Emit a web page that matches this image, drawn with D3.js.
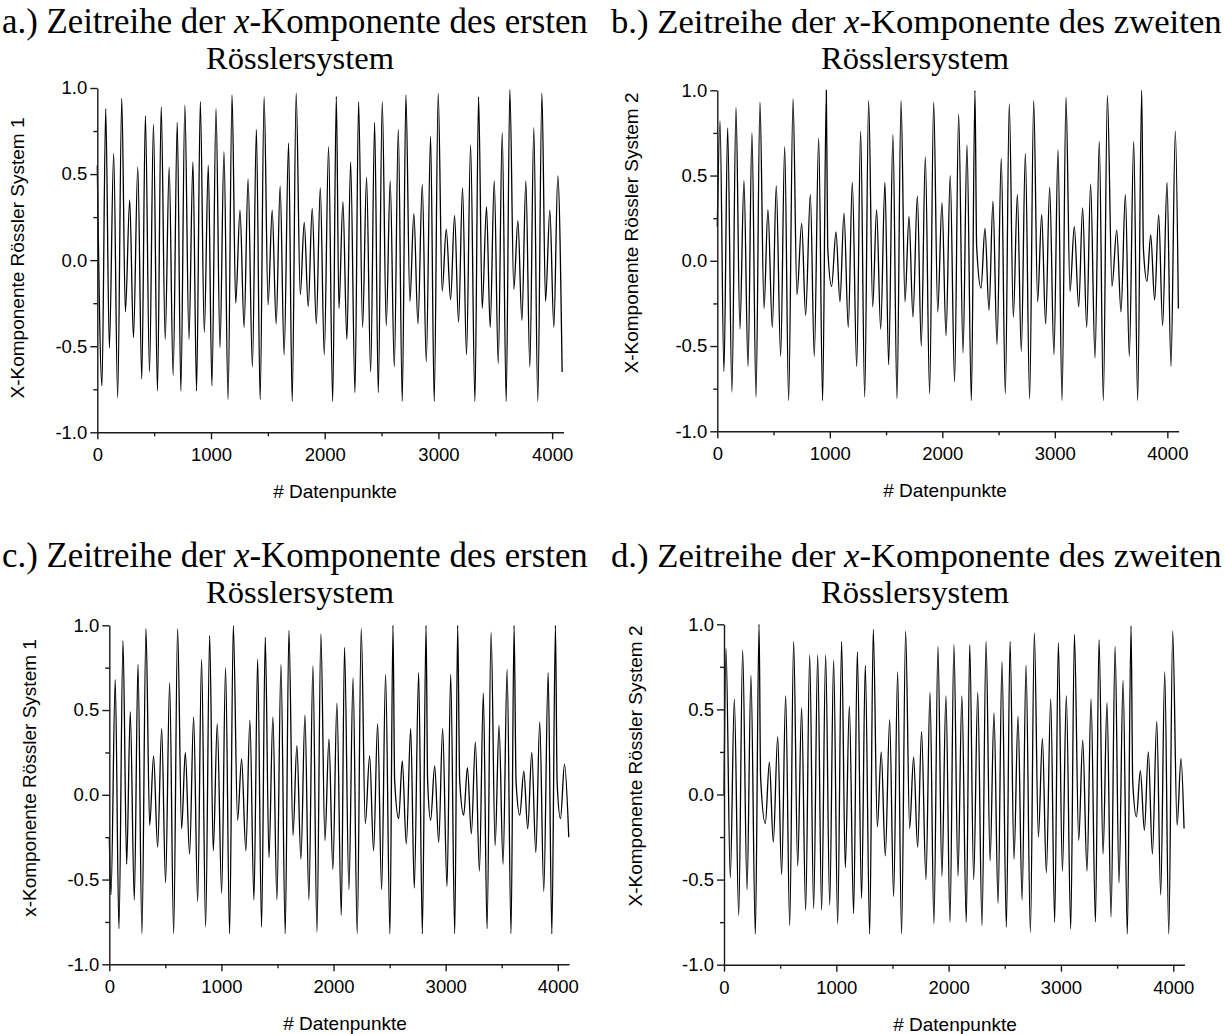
<!DOCTYPE html>
<html>
<head>
<meta charset="utf-8">
<script src="https://cdn.jsdelivr.net/npm/d3@7"></script>
<style>
  body { margin: 0; background: #fff; }
  svg { display: block; }
</style>
</head>
<body>
<div id="chart"></div>
<script>
const width = 1224;
const height = 1034;

// extrema of each time series, [data point index, x value]
const seriesA = [
  [0, 0.55], [41, -0.73], [74, 0.88], [106, -0.51], [144, 0.62], [179, -0.80], [215, 0.94], [247, -0.30],
  [285, 0.35], [318, -0.45], [356, 0.54], [391, -0.69], [423, 0.84], [459, -0.65], [494, 0.79], [529, -0.76],
  [562, 0.89], [597, -0.46], [632, 0.54], [667, -0.67], [703, 0.80], [735, -0.76], [770, 0.90], [806, -0.46],
  [841, 0.57], [873, -0.76], [906, 0.92], [941, -0.42], [976, 0.55], [1008, -0.73], [1044, 0.88], [1079, -0.51],
  [1114, 0.63], [1150, -0.81], [1185, 0.96], [1217, -0.25], [1255, 0.29], [1291, -0.39], [1326, 0.47], [1364, -0.62],
  [1399, 0.76], [1432, -0.81], [1467, 0.95], [1502, -0.26], [1538, 0.29], [1573, -0.37], [1608, 0.43], [1643, -0.55],
  [1682, 0.68], [1714, -0.82], [1749, 0.97], [1785, -0.20], [1820, 0.22], [1855, -0.27], [1890, 0.30], [1926, -0.37],
  [1961, 0.42], [1996, -0.55], [2034, 0.66], [2070, -0.82], [2102, 0.95], [2125, -0.28], [2160, 0.34], [2195, -0.46],
  [2228, 0.57], [2266, -0.77], [2298, 0.92], [2333, -0.39], [2368, 0.48], [2404, -0.65], [2439, 0.80], [2471, -0.77],
  [2506, 0.92], [2541, -0.38], [2576, 0.46], [2612, -0.62], [2647, 0.76], [2682, -0.82], [2714, 0.96], [2749, -0.24],
  [2784, 0.27], [2820, -0.37], [2858, 0.44], [2893, -0.59], [2931, 0.72], [2963, -0.82], [2998, 0.97], [3033, -0.18],
  [3069, 0.18], [3107, -0.23], [3142, 0.26], [3177, -0.36], [3212, 0.42], [3247, -0.55], [3283, 0.67], [3321, -0.82],
  [3353, 0.95], [3385, -0.28], [3423, 0.31], [3455, -0.39], [3491, 0.46], [3526, -0.60], [3561, 0.74], [3596, -0.82],
  [3628, 0.99], [3663, -0.17], [3699, 0.23], [3734, -0.35], [3769, 0.46], [3804, -0.62], [3839, 0.77], [3874, -0.82],
  [3910, 0.97], [3942, -0.24], [3980, 0.29], [4015, -0.39], [4050, 0.49], [4088, -0.65]
];

const seriesB = [
  [0, 0.20], [24, 0.82], [59, -0.65], [92, 0.78], [130, -0.77], [166, 0.90], [201, -0.40], [237, 0.47],
  [273, -0.62], [308, 0.75], [344, -0.80], [379, 0.93], [415, -0.28], [450, 0.30], [489, -0.39], [524, 0.44],
  [563, -0.56], [599, 0.67], [634, -0.82], [673, 0.95], [708, -0.20], [750, 0.22], [785, -0.32], [827, 0.39],
  [862, -0.56], [901, 0.72], [936, -0.82], [969, 1.00], [981, 0.085], [1016, -0.15], [1055, 0.17], [1090, -0.24],
  [1126, 0.28], [1164, -0.39], [1200, 0.46], [1239, -0.62], [1274, 0.76], [1310, -0.80], [1345, 0.94], [1381, -0.27],
  [1416, 0.30], [1452, -0.40], [1490, 0.46], [1523, -0.61], [1561, 0.74], [1597, -0.81], [1633, 0.94], [1668, -0.24],
  [1704, 0.26], [1739, -0.33], [1778, 0.38], [1813, -0.50], [1849, 0.61], [1887, -0.78], [1923, 0.93], [1959, -0.30],
  [1997, 0.34], [2033, -0.44], [2070, 0.50], [2109, -0.71], [2145, 0.86], [2184, -0.54], [2219, 0.68], [2258, -0.82],
  [2290, 1.00], [2305, 0.085], [2344, -0.16], [2379, 0.19], [2415, -0.29], [2450, 0.35], [2486, -0.49], [2524, 0.60],
  [2560, -0.78], [2595, 0.92], [2631, -0.33], [2667, 0.39], [2702, -0.53], [2738, 0.63], [2776, -0.81], [2812, 0.94],
  [2847, -0.24], [2883, 0.27], [2918, -0.37], [2954, 0.43], [2992, -0.55], [3028, 0.65], [3064, -0.82], [3099, 0.96],
  [3135, -0.18], [3173, 0.20], [3212, -0.27], [3247, 0.31], [3283, -0.39], [3318, 0.45], [3357, -0.57], [3395, 0.70],
  [3431, -0.82], [3467, 0.97], [3508, -0.15], [3550, 0.18], [3588, -0.30], [3627, 0.39], [3662, -0.56], [3701, 0.70],
  [3736, -0.82], [3772, 1.00], [3787, 0.075], [3819, -0.12], [3852, 0.15], [3887, -0.23], [3923, 0.27], [3958, -0.38],
  [3997, 0.46], [4032, -0.62], [4071, 0.76], [4098, -0.28]
];

const seriesC = [
  [0, -0.25], [15, -0.59], [53, 0.68], [86, -0.79], [122, 0.91], [155, -0.41], [187, 0.49], [223, -0.62],
  [256, 0.77], [291, -0.82], [327, 0.98], [360, -0.18], [395, 0.23], [431, -0.31], [467, 0.39], [502, -0.52],
  [538, 0.66], [574, -0.82], [609, 0.98], [645, -0.20], [678, 0.25], [716, -0.35], [752, 0.46], [788, -0.63],
  [823, 0.80], [859, -0.78], [895, 0.94], [927, -0.33], [963, 0.42], [1002, -0.58], [1037, 0.75], [1073, -0.82],
  [1106, 1.00], [1144, -0.15], [1180, 0.21], [1218, -0.33], [1254, 0.44], [1290, -0.62], [1323, 0.80], [1358, -0.78],
  [1391, 0.93], [1424, -0.37], [1459, 0.46], [1495, -0.62], [1531, 0.77], [1569, -0.82], [1602, 0.97], [1638, -0.24],
  [1673, 0.29], [1709, -0.38], [1745, 0.47], [1780, -0.62], [1816, 0.76], [1852, -0.81], [1887, 0.95], [1923, -0.27],
  [1959, 0.33], [1994, -0.44], [2030, 0.54], [2069, -0.71], [2098, 0.87], [2137, -0.56], [2174, 0.69], [2211, -0.82],
  [2247, 0.98], [2283, -0.17], [2322, 0.23], [2357, -0.33], [2393, 0.42], [2429, -0.56], [2464, 0.71], [2503, -0.82],
  [2530, 1.00], [2545, 0.085], [2581, -0.14], [2613, 0.20], [2649, -0.29], [2688, 0.39], [2720, -0.55], [2759, 0.72],
  [2792, -0.82], [2825, 1.00], [2839, 0.085], [2866, -0.15], [2902, 0.17], [2938, -0.28], [2973, 0.39], [3012, -0.54],
  [3045, 0.71], [3081, -0.82], [3107, 1.00], [3125, 0.085], [3161, -0.12], [3194, 0.16], [3229, -0.23], [3265, 0.31],
  [3301, -0.45], [3336, 0.60], [3369, -0.79], [3405, 0.96], [3441, -0.30], [3476, 0.41], [3512, -0.41], [3548, 0.74],
  [3583, -0.82], [3610, 1.00], [3628, 0.075], [3661, -0.12], [3697, 0.14], [3732, -0.20], [3768, 0.25], [3804, -0.34],
  [3839, 0.43], [3875, -0.57], [3914, 0.72], [3947, -0.82], [3979, 1.00], [3994, 0.075], [4024, -0.14], [4060, 0.18],
  [4098, -0.25]
];

const seriesD = [
  [0, 0.00], [18, 0.86], [56, -0.49], [92, 0.56], [131, -0.71], [166, 0.85], [205, -0.56], [240, 0.70],
  [279, -0.82], [312, 1.00], [326, 0.10], [368, -0.17], [404, 0.19], [439, -0.28], [478, 0.34], [513, -0.47],
  [549, 0.58], [585, -0.77], [620, 0.90], [656, -0.42], [691, 0.51], [727, -0.68], [763, 0.82], [798, -0.67],
  [834, 0.82], [869, -0.68], [905, 0.82], [941, -0.65], [976, 0.79], [1012, -0.76], [1047, 0.90], [1080, -0.43],
  [1116, 0.52], [1154, -0.70], [1187, 0.84], [1225, -0.61], [1258, 0.76], [1297, -0.82], [1329, 0.97], [1365, -0.19],
  [1400, 0.25], [1436, -0.36], [1475, 0.44], [1510, -0.60], [1546, 0.72], [1581, -0.82], [1617, 0.96], [1653, -0.20],
  [1688, 0.22], [1724, -0.31], [1759, 0.37], [1798, -0.50], [1834, 0.60], [1869, -0.76], [1905, 0.87], [1940, -0.48],
  [1976, 0.58], [2012, -0.75], [2047, 0.88], [2083, -0.48], [2118, 0.58], [2157, -0.75], [2188, 0.88], [2223, -0.50],
  [2259, 0.60], [2297, -0.77], [2333, 0.90], [2369, -0.39], [2404, 0.48], [2440, -0.64], [2475, 0.78], [2514, -0.78],
  [2547, 0.90], [2582, -0.38], [2618, 0.46], [2654, -0.62], [2689, 0.76], [2728, -0.81], [2763, 0.95], [2799, -0.25],
  [2835, 0.33], [2870, -0.46], [2909, 0.56], [2944, -0.75], [2977, 0.89], [3013, -0.45], [3048, 0.58], [3087, -0.79],
  [3120, 0.94], [3158, -0.27], [3194, 0.32], [3232, -0.45], [3268, 0.56], [3307, -0.75], [3339, 0.91], [3375, -0.35],
  [3410, 0.54], [3446, -0.72], [3482, 0.87], [3517, -0.52], [3553, 0.67], [3591, -0.82], [3624, 0.99], [3639, 0.075],
  [3672, -0.13], [3707, 0.14], [3743, -0.21], [3778, 0.25], [3814, -0.35], [3853, 0.43], [3888, -0.59], [3924, 0.72],
  [3960, -0.82], [3995, 0.96], [4034, -0.18], [4069, 0.21], [4096, -0.20]
];

const xMajorTicks = [0, 1000, 2000, 3000, 4000];
const xMinorTicks = [500, 1500, 2500, 3500];
const yMajorTicks = [-1.0, -0.5, 0.0, 0.5, 1.0];
const yMinorTicks = [-0.75, -0.25, 0.25, 0.75];

const titlesLine1 = [
  ["a.) Zeitreihe der ", "x", "-Komponente des ersten"],
  ["b.) Zeitreihe der ", "x", "-Komponente des zweiten"],
  ["c.) Zeitreihe der ", "x", "-Komponente des ersten"],
  ["d.) Zeitreihe der ", "x", "-Komponente des zweiten"]
];
const titleLine2 = "Rösslersystem";
const yTitles = [
  "X-Komponente Rössler System 1",
  "X-Komponente Rössler System 2",
  "x-Komponente Rössler System 1",
  "X-Komponente Rössler System 2"
];
const xTitle = "# Datenpunkte";

// layout of the four panels (pixels)
const panels = [
  { data: seriesA, left: 97.3, right: 563.5, top: 88, bottom: 432.3, t1x: 2, t1w: 586, t1y: 33, t2y: 69, t2c: 300, ylx: 24, yly: 258, xlx: 335 },
  { data: seriesB, left: 717.3, right: 1178.6, top: 90.3, bottom: 431.3, t1x: 611, t1w: 611, t1y: 33, t2y: 69, t2c: 915, ylx: 638, yly: 233, xlx: 945 },
  { data: seriesC, left: 109.3, right: 569, top: 625.3, bottom: 964.3, t1x: 2, t1w: 586, t1y: 567, t2y: 603, t2c: 300, ylx: 36, yly: 778, xlx: 345 },
  { data: seriesD, left: 724, right: 1184.5, top: 624.3, bottom: 964.7, t1x: 611, t1w: 611, t1y: 567, t2y: 603, t2c: 915, ylx: 642, yly: 766, xlx: 955 }
];

const svg = d3.select('#chart')
  .append('svg')
  .attr('width', width)
  .attr('height', height);

const sansFont = "'Liberation Sans', Arial, sans-serif";
const serifFont = "'Liberation Serif', 'Times New Roman', serif";

panels.forEach((p, i) => {
  const x = d3.scaleLinear().domain([0, 4100]).range([p.left, p.right]);
  const y = d3.scaleLinear().domain([-1, 1]).range([p.bottom, p.top]);

  const g = svg.append('g');

  // curve
  const line = d3.line()
    .x(d => x(d[0]))
    .y(d => y(d[1]))
    .curve(d3.curveMonotoneX);

  g.append('path')
    .datum(p.data)
    .attr('fill', 'none')
    .attr('stroke', '#000')
    .attr('stroke-width', 1.3)
    .attr('d', line);

  // y axis
  g.append('g')
    .attr('transform', `translate(${p.left},0)`)
    .call(d3.axisLeft(y).tickValues(yMajorTicks).tickSize(7).tickSizeOuter(0)
      .tickPadding(3).tickFormat(d => d.toFixed(1)));
  g.append('g')
    .attr('transform', `translate(${p.left},0)`)
    .call(d3.axisLeft(y).tickValues(yMinorTicks).tickSize(4).tickFormat(''))
    .call(s => s.select('.domain').remove());

  // x axis
  g.append('g')
    .attr('transform', `translate(0,${p.bottom})`)
    .call(d3.axisBottom(x).tickValues(xMajorTicks).tickSize(7).tickSizeOuter(0)
      .tickPadding(9).tickFormat(d3.format('d')));
  g.append('g')
    .attr('transform', `translate(0,${p.bottom})`)
    .call(d3.axisBottom(x).tickValues(xMinorTicks).tickSize(4).tickFormat(''))
    .call(s => s.select('.domain').remove());

  g.selectAll('.tick line, .domain')
    .attr('stroke', '#1a1a1a')
    .attr('stroke-width', 1.4);
  g.selectAll('.tick text')
    .attr('font-family', sansFont)
    .attr('font-size', 18.5)
    .attr('fill', '#000');

  // axis titles
  g.append('text')
    .attr('transform', `translate(${p.ylx},${p.yly}) rotate(-90)`)
    .attr('text-anchor', 'middle')
    .attr('font-family', sansFont)
    .attr('font-size', 19)
    .text(yTitles[i]);

  g.append('text')
    .attr('x', p.xlx)
    .attr('y', p.bottom + 66)
    .attr('text-anchor', 'middle')
    .attr('font-family', sansFont)
    .attr('font-size', 19)
    .text(xTitle);

  // panel title, each line fitted to its width
  const t1 = g.append('text')
    .attr('x', p.t1x)
    .attr('y', p.t1y)
    .attr('font-family', serifFont)
    .attr('font-size', 30);
  t1.append('tspan').text(titlesLine1[i][0]);
  t1.append('tspan').attr('font-style', 'italic').text(titlesLine1[i][1]);
  t1.append('tspan').text(titlesLine1[i][2]);
  t1.attr('font-size', 30 * p.t1w / t1.node().getComputedTextLength());

  const t2 = g.append('text')
    .attr('x', p.t2c)
    .attr('y', p.t2y)
    .attr('text-anchor', 'middle')
    .attr('font-family', serifFont)
    .attr('font-size', 30)
    .text(titleLine2);
  t2.attr('font-size', 30 * 188 / t2.node().getComputedTextLength());
});
</script>
</body>
</html>
